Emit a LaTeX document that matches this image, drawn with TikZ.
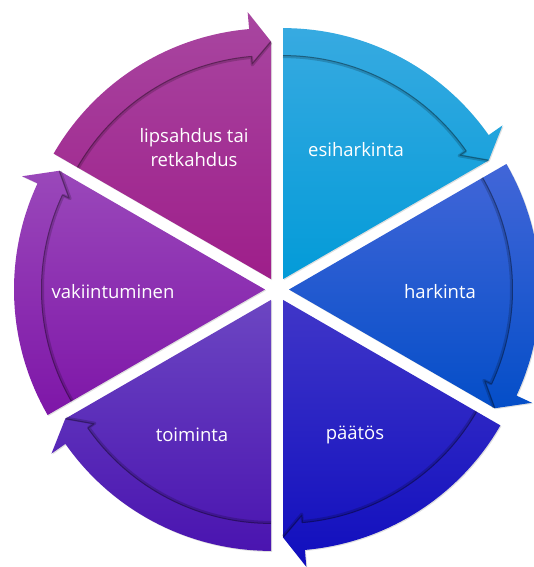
\documentclass[tikz,border=0pt]{standalone}
\usepackage{fontspec}
\setmainfont{Open Sans}
\usepackage{tikz}
\usetikzlibrary{shadows}

\definecolor{esiTop}{RGB}{55,170,225}
\definecolor{esiBot}{RGB}{3,155,216}
\definecolor{harTop}{RGB}{66,102,216}
\definecolor{harBot}{RGB}{4,78,200}
\definecolor{paaTop}{RGB}{64,54,200}
\definecolor{paaBot}{RGB}{16,14,190}
\definecolor{toiTop}{RGB}{108,70,194}
\definecolor{toiBot}{RGB}{74,20,176}
\definecolor{vakTop}{RGB}{154,72,186}
\definecolor{vakBot}{RGB}{126,22,168}
\definecolor{lipTop}{RGB}{168,70,160}
\definecolor{lipBot}{RGB}{158,30,138}

\tikzstyle{phase} = [text=white, align=center,
    font=\fontsize{18.5}{24}\selectfont]
\tikzstyle{piece} = [drop shadow={opacity=.25, shadow xshift=1pt,
    shadow yshift=-1pt}]
\tikzstyle{edge} = [draw=black, draw opacity=.18, line width=3pt,
    line join=round]
\tikzstyle{thinedge} = [draw=black, draw opacity=.3, line width=1pt,
    line join=round]

% one pie piece with its curved arrow, #1 = start angle
\newcommand{\cyclepart}[3]{%
  \begin{scope}[shift={({#1-30}:12)}]
    \path[piece, top color=#2, bottom color=#3] (0,0) -- (#1:251)
        arc[start angle=#1, end angle=#1-55, radius=251]
        -- ({#1-55}:268) -- ({#1-60}:237.5) -- cycle;
    \path[edge] (#1:222.5)
        arc[start angle=#1, end angle=#1-55, radius=222.5]
        -- ({#1-55}:215) -- ({#1-60}:236.5);
    \path[thinedge] (#1:223.5)
        arc[start angle=#1, end angle=#1-55, radius=223.5]
        -- ({#1-55}:216) -- ({#1-60}:237.5);
  \end{scope}}

\begin{document}
\begin{tikzpicture}[x=1pt, y=1pt]
    \useasboundingbox (-277,-277.5) rectangle (256,289.5);
    % Draw pieces
    \cyclepart{90}{esiTop}{esiBot}
    \cyclepart{30}{harTop}{harBot}
    \cyclepart{-30}{paaTop}{paaBot}
    \cyclepart{-90}{toiTop}{toiBot}
    \cyclepart{-150}{vakTop}{vakBot}
    \cyclepart{150}{lipTop}{lipBot}
    % Place nodes
    \node [phase] (esiharkinta) at (79,140) {esiharkinta};
    \node [phase] (harkinta) at (163,-2) {harkinta};
    \node [phase] (paatos) at (78,-145) {päätös};
    \node [phase] (toiminta) at (-85,-145) {toiminta};
    \node [phase] (vakiintuminen) at (-164,-2) {vakiintuminen};
    \node [phase] (lipsahdus) at (-83,142) {lipsahdus tai\\retkahdus};
\end{tikzpicture}
\end{document}
